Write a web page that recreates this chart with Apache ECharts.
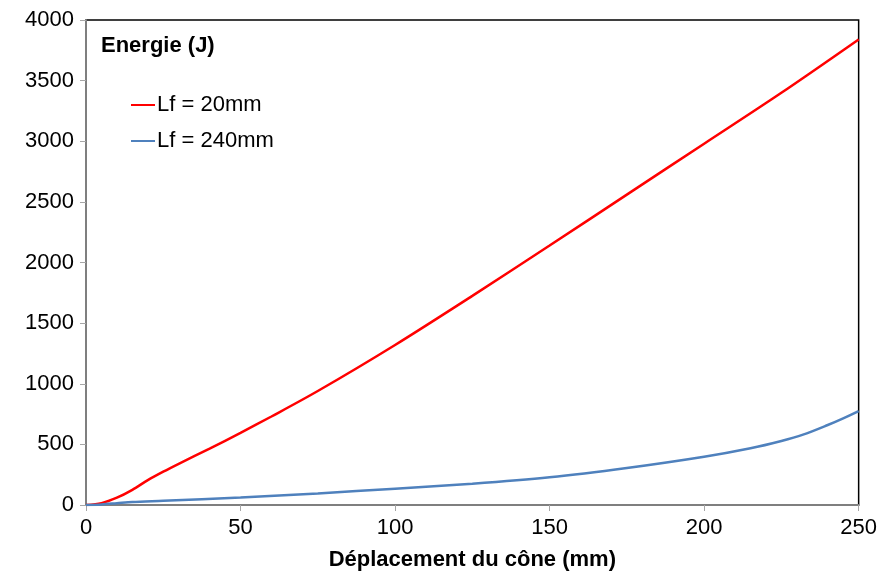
<!DOCTYPE html>
<html>
<head>
<meta charset="utf-8">
<script src="https://cdn.jsdelivr.net/npm/echarts@6/dist/echarts.min.js"></script>
<style>
html, body { margin: 0; padding: 0; background: #fff; }
#chart { width: 880px; height: 576px; }
</style>
</head>
<body>
<div id="chart"></div>
<script>
// données
var xLf20 = [0, 5, 10, 15, 20, 25, 30, 40, 50, 60, 75, 100, 125, 150, 175, 200, 225, 250];
var yLf20 = [0, 15, 60, 125, 205, 275, 340, 465, 595, 730, 940, 1320, 1725, 2140, 2560, 2980, 3400, 3840];
var xLf240 = [0, 5, 10, 15, 25, 50, 75, 100, 125, 150, 175, 200, 215, 225, 232, 240, 245, 250];
var yLf240 = [0, 5, 15, 25, 35, 62, 95, 135, 175, 228, 305, 398, 468, 528, 580, 660, 715, 775];
var seriesNames = ['Lf = 20mm', 'Lf = 240mm'];

function pairs(xs, ys) {
    var out = [];
    for (var i = 0; i < xs.length; i++) out.push([xs[i], ys[i]]);
    return out;
}

var myChart = echarts.init(document.getElementById('chart'));
var font = 'Liberation Sans, Arial, sans-serif';
var option = {
    animation: false,
    title: {
        text: 'Energie (J)',
        left: 96,
        top: 30,
        textStyle: { fontFamily: font, fontSize: 22, fontWeight: 'bold', color: '#000' }
    },
    legend: {
        orient: 'vertical',
        left: 126,
        top: 89,
        icon: 'rect',
        itemWidth: 24,
        itemHeight: 2,
        itemGap: 14,
        textStyle: { fontFamily: font, fontSize: 22, color: '#000', padding: [0, 0, 0, -3] },
        data: seriesNames
    },
    grid: {
        left: 86,
        right: 20,
        top: 20,
        bottom: 69,
        show: true,
        borderColor: '#000',
        borderWidth: 1.5
    },
    xAxis: {
        type: 'value',
        min: 0,
        max: 250,
        interval: 50,
        name: 'Déplacement du cône (mm)',
        nameLocation: 'middle',
        nameGap: 44,
        nameTextStyle: { fontFamily: font, fontSize: 22, fontWeight: 'bold', color: '#000' },
        axisLine: { lineStyle: { color: '#7f7f7f', width: 2 } },
        axisTick: { show: true, length: 6, lineStyle: { color: '#a6a6a6' } },
        axisLabel: { fontFamily: font, fontSize: 22, color: '#000', margin: 12 },
        splitLine: { show: false }
    },
    yAxis: {
        type: 'value',
        min: 0,
        max: 4000,
        interval: 500,
        axisLine: { show: true, lineStyle: { color: '#7f7f7f', width: 2 } },
        axisTick: { show: true, length: 6, lineStyle: { color: '#a6a6a6' } },
        axisLabel: {
            fontFamily: font, fontSize: 22, color: '#000', margin: 12,
            formatter: function (v) { return String(v); }
        },
        splitLine: { show: false }
    },
    series: [
        {
            name: seriesNames[0],
            type: 'line',
            smooth: 0.3,
            showSymbol: false,
            color: '#ff0000',
            lineStyle: { width: 2.5 },
            data: pairs(xLf20, yLf20)
        },
        {
            name: seriesNames[1],
            type: 'line',
            smooth: 0.3,
            showSymbol: false,
            color: '#4f81bd',
            lineStyle: { width: 2.5 },
            data: pairs(xLf240, yLf240)
        }
    ]
};
myChart.setOption(option);
</script>
</body>
</html>
